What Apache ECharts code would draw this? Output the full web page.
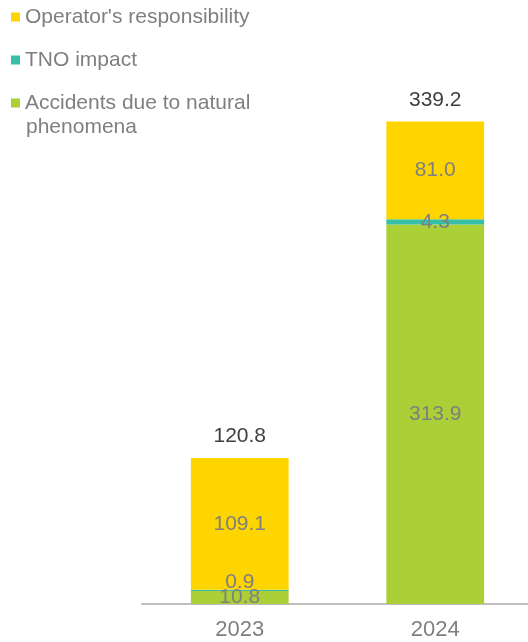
<!DOCTYPE html>
<html>
<head>
<meta charset="utf-8">
<style>
  html, body { margin: 0; padding: 0; background: #fff; }
  #Echarts { width: 528px; height: 642px; }
</style>
<script src="https://cdn.jsdelivr.net/npm/echarts@6/dist/echarts.min.js"></script>
</head>
<body>
<div id="Echarts"></div>
<script>
// data
var years = ['2023', '2024'];
var natural = [10.8, 313.9];
var tno = [0.9, 4.3];
var operator = [109.1, 81.0];
// totals as printed above the bars
var totals = ['120.8', '339.2'];

var font = 'Liberation Sans, Arial, sans-serif';
var grey = '#7f7f7f';

var myChart = echarts.init(document.getElementById('Echarts'));

function segLabel() {
    return {
        show: true,
        position: 'inside',
        color: grey,
        fontSize: 21,
        fontFamily: font,
        formatter: function (p) { return p.value.toFixed(1); }
    };
}

var option = {
    animation: false,
    textStyle: { fontFamily: font },
    legend: {
        orient: 'vertical',
        left: 6,
        top: 0,
        itemWidth: 9,
        itemHeight: 9,
        itemGap: 19,
        icon: 'rect',
        textStyle: { color: grey, fontSize: 21, lineHeight: 24, fontFamily: font },
        data: ["Operator's responsibility", 'TNO impact', 'Accidents due to natural']
    },
    graphic: [{
        type: 'text',
        left: 26,
        top: 117,
        style: { text: 'phenomena', fill: grey, fontSize: 21, fontFamily: font }
    }],
    grid: { left: 142, width: 391, top: 60, bottom: 38, outerBoundsMode: 'none' },
    xAxis: {
        type: 'category',
        data: years,
        axisLine: { lineStyle: { color: '#bfbfbf', width: 2 } },
        axisTick: { show: false },
        axisLabel: { color: grey, fontSize: 22, margin: 15, fontFamily: font }
    },
    yAxis: {
        type: 'value',
        min: 0,
        max: 450,
        show: false
    },
    series: [
        {
            name: 'Accidents due to natural',
            type: 'bar',
            stack: 'a',
            barWidth: '50%',
            itemStyle: { color: '#abcf37' },
            label: segLabel(),
            data: natural
        },
        {
            name: 'TNO impact',
            type: 'bar',
            stack: 'a',
            itemStyle: { color: '#36bfa6' },
            label: segLabel(),
            data: tno.map(function (v, i) {
                return i === 0 ? { value: v, label: { offset: [0, -8] } } : v;
            })
        },
        {
            name: "Operator's responsibility",
            type: 'bar',
            stack: 'a',
            itemStyle: { color: '#ffd500' },
            label: segLabel(),
            data: operator
        },
        {
            name: 'total',
            type: 'bar',
            stack: 'a',
            itemStyle: { color: 'transparent' },
            label: {
                show: true,
                position: 'top',
                distance: 11,
                color: '#404040',
                fontSize: 21,
                fontFamily: font,
                formatter: function (p) { return totals[p.dataIndex]; }
            },
            data: years.map(function () { return 0; })
        }
    ]
};

myChart.setOption(option);
</script>
</body>
</html>
